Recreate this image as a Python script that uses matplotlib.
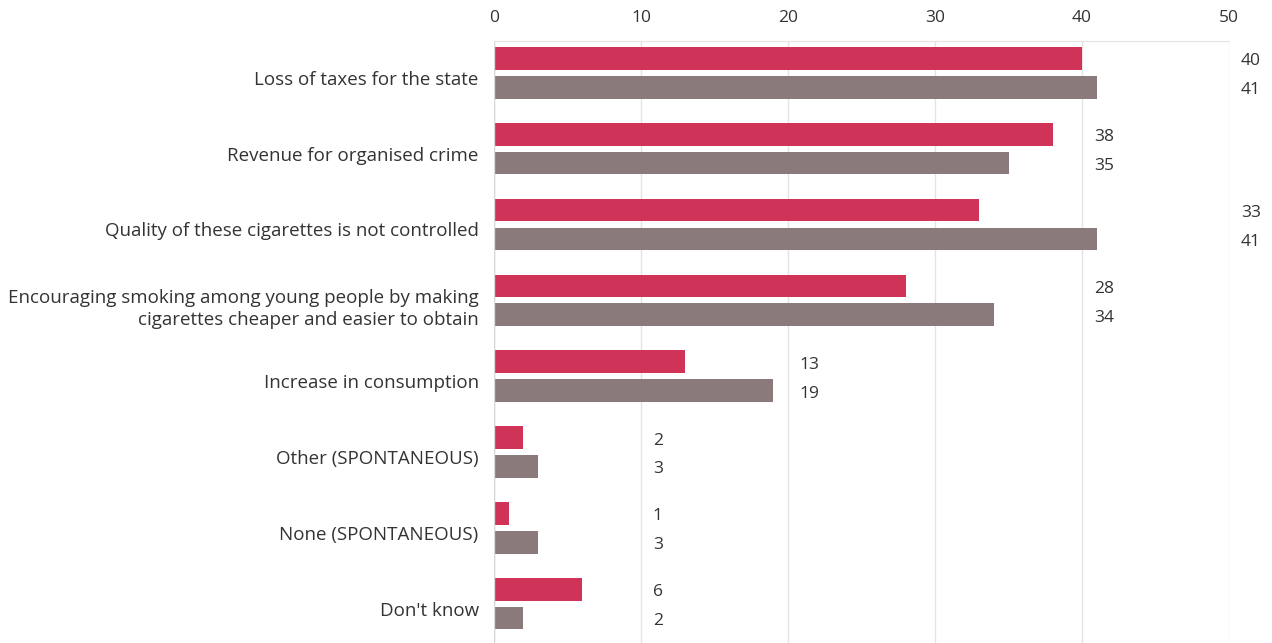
import math
import numpy as np
import matplotlib.pyplot as plt
import matplotlib.transforms as mtransforms

categories = [
    'Loss of taxes for the state',
    'Revenue for organised crime',
    'Quality of these cigarettes is not controlled',
    'Encouraging smoking among young people by making\ncigarettes cheaper and easier to obtain',
    'Increase in consumption',
    'Other (SPONTANEOUS)',
    'None (SPONTANEOUS)',
    "Don't know",
]
series_a = [40, 38, 33, 28, 13, 2, 1, 6]
series_b = [41, 35, 41, 34, 19, 3, 3, 2]

red = '#cf3458'
grey = '#8a7a7c'
text_col = '#333333'

plt.rcParams['font.family'] = ['Open Sans', 'DejaVu Sans']

fig = plt.figure(figsize=(12.72, 6.43), dpi=100)
ax = fig.add_axes([494 / 1272, 0, (1229 - 494) / 1272, 1 - 41 / 643])

y = np.arange(len(categories))
h = 0.30
off = 0.19
ax.barh(y - off, series_a, height=h, color=red, zorder=3)
ax.barh(y + off, series_b, height=h, color=grey, zorder=3)

down = mtransforms.ScaledTranslation(0, -3 / 100, fig.dpi_scale_trans)
for i, (a, b) in enumerate(zip(series_a, series_b)):
    xpos = math.ceil(max(a, b) / 10) * 10 + 0.8
    ax.text(xpos, i - off, str(a), va='center', ha='left', fontsize=12.5, color=text_col,
            transform=ax.transData + down)
    ax.text(xpos, i + off, str(b), va='center', ha='left', fontsize=12.5, color=text_col,
            transform=ax.transData + down)

ax.set_xlim(0, 50)
ax.set_ylim(len(categories) - 0.48, -0.42)
ax.set_yticks(y)
ax.set_yticklabels(categories, fontsize=13.5, color=text_col, linespacing=1.25)
ax.set_xticks([0, 10, 20, 30, 40, 50])
ax.xaxis.tick_top()
ax.tick_params(axis='x', length=0, pad=11, labelsize=12.5, labelcolor=text_col)
ax.tick_params(axis='y', length=0, pad=11)

shift = mtransforms.ScaledTranslation(0, -5 / 100, fig.dpi_scale_trans)
for lab in ax.get_yticklabels():
    lab.set_transform(lab.get_transform() + shift)

ax.grid(axis='x', color='#e4e4e4', lw=1, zorder=0)
for s in ['right', 'bottom', 'left']:
    ax.spines[s].set_visible(False)
ax.spines['top'].set_color('#e4e4e4')
ax.axvline(0, color='#d8d8d8', lw=1, zorder=4)

fig.savefig('out.png', dpi=100)
